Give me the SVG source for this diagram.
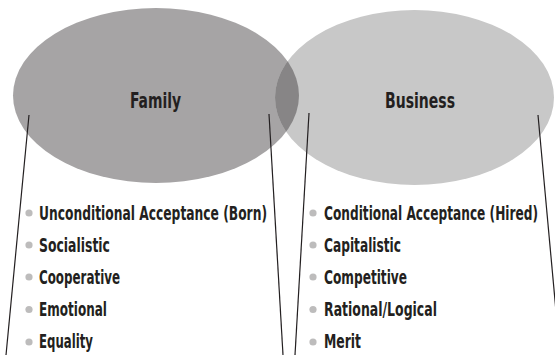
<svg xmlns="http://www.w3.org/2000/svg" width="555" height="355" viewBox="0 0 555 355">
<style>
.t{font-family:"Liberation Sans Narrow","DejaVu Sans Condensed","Liberation Sans",sans-serif;font-weight:bold;fill:#231f20}
.item{font-size:20px}
.title{font-size:22px}
.conn line{stroke:#231f20;stroke-width:1.2}
.dot{fill:#bdbcbc}
</style>
<defs>
<clipPath id="bizClip"><ellipse cx="414.5" cy="97.5" rx="139.5" ry="87.5"/></clipPath>
</defs>
<g id="family">
<ellipse cx="156" cy="95.5" rx="143" ry="87.5" fill="#a6a4a5"/>
</g>
<g id="business">
<ellipse cx="414.5" cy="97.5" rx="139.5" ry="87.5" fill="#c8c8c8"/>
</g>
<g id="overlap">
<ellipse cx="156" cy="95.5" rx="143" ry="87.5" fill="#878586" clip-path="url(#bizClip)"/>
</g>
<g id="family-label"><text class="t title" x="155.5" y="108" text-anchor="middle" textLength="51" lengthAdjust="spacingAndGlyphs">Family</text></g>
<g id="business-label"><text class="t title" x="420" y="108" text-anchor="middle" textLength="70" lengthAdjust="spacingAndGlyphs">Business</text></g>
<g id="connectors" class="conn">
<line x1="29" y1="115" x2="6" y2="355"/>
<line x1="269" y1="114" x2="283" y2="355"/>
<line x1="309" y1="113" x2="295" y2="355"/>
<line x1="538" y1="115" x2="560" y2="355"/>
</g>
<g id="family-list">
<circle class="dot" cx="29" cy="213" r="3.6"/>
<circle class="dot" cx="29" cy="245" r="3.6"/>
<circle class="dot" cx="29" cy="277" r="3.6"/>
<circle class="dot" cx="29" cy="309.5" r="3.6"/>
<circle class="dot" cx="29" cy="342" r="3.6"/>
<text class="t item" x="39" y="220" textLength="228" lengthAdjust="spacingAndGlyphs">Unconditional Acceptance (Born)</text>
<text class="t item" x="39" y="252" textLength="71" lengthAdjust="spacingAndGlyphs">Socialistic</text>
<text class="t item" x="39" y="284" textLength="81" lengthAdjust="spacingAndGlyphs">Cooperative</text>
<text class="t item" x="39" y="316" textLength="68" lengthAdjust="spacingAndGlyphs">Emotional</text>
<text class="t item" x="39" y="348" textLength="54" lengthAdjust="spacingAndGlyphs">Equality</text>
</g>
<g id="business-list">
<circle class="dot" cx="313" cy="213" r="3.6"/>
<circle class="dot" cx="313" cy="245" r="3.6"/>
<circle class="dot" cx="313" cy="277" r="3.6"/>
<circle class="dot" cx="313" cy="309.5" r="3.6"/>
<circle class="dot" cx="313" cy="342" r="3.6"/>
<text class="t item" x="324" y="220" textLength="214" lengthAdjust="spacingAndGlyphs">Conditional Acceptance (Hired)</text>
<text class="t item" x="324" y="252" textLength="77" lengthAdjust="spacingAndGlyphs">Capitalistic</text>
<text class="t item" x="324" y="284" textLength="83" lengthAdjust="spacingAndGlyphs">Competitive</text>
<text class="t item" x="324" y="316" textLength="113" lengthAdjust="spacingAndGlyphs">Rational/Logical</text>
<text class="t item" x="324" y="348" textLength="37" lengthAdjust="spacingAndGlyphs">Merit</text>
</g>
</svg>
